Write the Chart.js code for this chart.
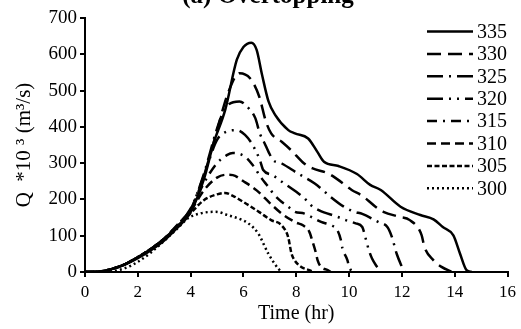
<!DOCTYPE html>
<html>
<head>
<meta charset="utf-8">
<script src="https://cdn.jsdelivr.net/npm/chart.js@4"></script>
<style>
  body { margin: 0; background: #fff; }
  #wrap { width: 521px; height: 329px; position: relative; }
</style>
</head>
<body>
<div id="wrap"><canvas id="chart"></canvas></div>
<script>
// outflow hydrographs, Q *10^3 m3/s vs time (hr), one pair of arrays per level
const t335 = [0, 0.5, 1, 1.5, 2, 2.5, 3, 3.5, 4, 4.5, 4.87, 5.31, 5.75, 6.0, 6.3, 6.5, 6.7, 6.95, 7.2, 7.7, 7.95, 8.45, 8.8, 9.05, 9.6, 10.3, 10.8, 11.2, 11.95, 12.7, 13.2, 13.55, 13.95, 14.2, 14.45, 14.65];
const q335 = [0, 1, 8, 20, 38, 60, 87, 122, 165, 255, 355, 447, 585, 620, 632, 612, 545, 470, 433, 391, 382, 368, 331, 304, 292, 270, 240, 226, 180, 157, 145, 124, 101, 51, 5, 0];

const t330 = [0, 0.5, 1, 1.5, 2, 2.5, 3, 3.5, 4, 4.5, 5, 5.4, 5.85, 6.25, 6.6, 6.85, 7.05, 7.45, 7.8, 8.3, 8.6, 9.2, 9.55, 10.1, 10.5, 11.0, 11.3, 11.9, 12.3, 12.75, 12.85, 13.2, 13.5, 13.9];
const q330 = [0, 1, 8, 21, 40, 63, 90, 126, 170, 265, 390, 490, 548, 534, 483, 415, 382, 359, 336, 299, 286, 272, 256, 226, 210, 180, 166, 152, 143, 101, 70, 32, 14, 0];

const t325 = [0, 0.5, 1, 1.5, 2, 2.5, 3, 3.5, 4, 4.5, 5, 5.3, 5.85, 6.2, 6.45, 6.62, 6.8, 6.95, 7.12, 7.45, 8.05, 8.7, 9.0, 9.3, 9.8, 10.2, 10.5, 11.1, 11.45, 11.62, 11.8, 11.95, 12.1];
const q325 = [0, 1, 8, 21, 40, 63, 91, 128, 172, 270, 395, 450, 470, 451, 424, 382, 355, 331, 309, 299, 272, 244, 226, 207, 180, 166, 160, 138, 124, 97, 51, 23, 0];

const t320 = [0, 0.5, 1, 1.5, 2, 2.5, 3, 3.5, 4, 4.5, 5, 5.37, 5.75, 6.06, 6.31, 6.62, 6.75, 7.1, 7.45, 8.0, 8.31, 8.56, 8.87, 9.56, 9.87, 10.25, 10.5, 10.62, 10.75, 10.87, 11.06, 11.2];
const q320 = [0, 1, 8, 21, 41, 64, 92, 130, 175, 265, 364, 387, 391, 378, 355, 309, 281, 267, 249, 221, 203, 184, 170, 152, 143, 134, 124, 95, 60, 37, 14, 0];

const t315 = [0, 0.5, 1, 1.5, 2, 2.5, 3, 3.5, 4, 4.5, 5, 5.37, 5.6, 6.06, 6.35, 6.69, 6.94, 7.12, 7.37, 7.69, 7.94, 8.31, 8.69, 8.94, 9.31, 9.56, 9.69, 9.75, 9.94, 10.0, 10.15];
const q315 = [0, 1, 8, 21, 41, 64, 92, 130, 172, 245, 300, 322, 328, 318, 295, 258, 235, 217, 198, 180, 166, 161, 147, 138, 129, 115, 88, 65, 32, 14, 0];

const t310 = [0, 0.5, 1, 1.5, 2, 2.5, 3, 3.5, 4, 4.5, 5, 5.35, 5.6, 6.0, 6.5, 7.0, 7.5, 8.0, 8.25, 8.5, 8.62, 8.75, 8.81, 8.94, 9.19, 9.3];
const q310 = [0, 1, 8, 21, 41, 64, 92, 128, 168, 225, 260, 268, 267, 250, 225, 190, 158, 136, 129, 110, 83, 51, 32, 14, 5, 0];

const t305 = [0, 0.5, 1, 1.5, 2, 2.5, 3, 3.5, 4, 4.5, 5, 5.3, 5.6, 5.95, 6.2, 6.6, 7.05, 7.44, 7.69, 7.82, 7.94, 8.19, 8.5, 8.65];
const q305 = [0, 1, 8, 21, 41, 64, 92, 126, 162, 198, 214, 218, 210, 195, 184, 165, 143, 129, 97, 51, 32, 14, 5, 0];

const t300 = [0, 0.5, 1, 1.5, 2, 2.5, 3, 3.5, 3.9, 4.4, 4.95, 5.44, 5.9, 6.19, 6.56, 6.94, 7.31, 7.45];
const q300 = [0, 0, 2, 10, 28, 54, 86, 120, 148, 162, 166, 156, 145, 134, 106, 51, 10, 0];

const levels = ["335", "330", "325", "320", "315", "310", "305", "300"];
const times = [t335, t330, t325, t320, t315, t310, t305, t300];
const flows = [q335, q330, q325, q320, q315, q310, q305, q300];
const dashes = [[], [14, 7], [16, 6, 2, 6], [16, 6, 2, 6, 2, 6], [10, 6, 2, 6], [9, 5], [5, 2.5], [2, 3]];

const serif = '"Liberation Serif", "Times New Roman", serif';

const datasets = levels.map((lv, i) => ({
  label: lv,
  data: times[i].map((t, k) => ({ x: t, y: flows[i][k] })),
  borderColor: "#000",
  borderWidth: 2.5,
  borderDash: dashes[i],
  pointRadius: 0,
  fill: false,
  cubicInterpolationMode: "monotone",
}));

// legend drawn inside the plot, top right, as in the original
const innerLegend = {
  id: "innerLegend",
  afterDatasetsDraw(chart) {
    const ctx = chart.ctx;
    ctx.save();
    ctx.font = "20px " + serif;
    ctx.fillStyle = "#000";
    ctx.textBaseline = "middle";
    chart.data.datasets.forEach((ds, i) => {
      const y = 31.5 + i * 22.4;
      ctx.beginPath();
      ctx.setLineDash(ds.borderDash);
      ctx.lineWidth = 2.5;
      ctx.strokeStyle = "#000";
      ctx.moveTo(427, y);
      ctx.lineTo(473, y);
      ctx.stroke();
      ctx.setLineDash([]);
      ctx.fillText(ds.label, 477, y + 1);
    });
    ctx.restore();
  },
};

// title is partly cut off at the top edge in the original
const cutTitle = {
  id: "cutTitle",
  afterDraw(chart) {
    const ctx = chart.ctx;
    ctx.save();
    ctx.font = "bold 25px " + serif;
    ctx.fillStyle = "#000";
    ctx.textAlign = "center";
    ctx.textBaseline = "alphabetic";
    ctx.fillText("(a) Overtopping", 268, 3);
    ctx.restore();
  },
};

new Chart(document.getElementById("chart"), {
  type: "line",
  data: { datasets },
  plugins: [innerLegend, cutTitle],
  options: {
    responsive: true,
    maintainAspectRatio: false,
    animation: false,
    layout: { padding: { top: 18, right: 10, left: 0, bottom: 0 } },
    plugins: { legend: { display: false }, tooltip: { enabled: false } },
    scales: {
      x: {
        type: "linear",
        min: 0,
        max: 16,
        afterFit: (s) => { s.height = 57; },
        ticks: { stepSize: 2, color: "#000", font: { family: serif, size: 17 }, padding: 5, maxRotation: 0 },
        grid: { drawOnChartArea: false, tickLength: 5, color: "#000", lineWidth: 2 },
        border: { color: "#000", width: 2 },
        title: { display: true, text: "Time (hr)", color: "#000", font: { family: serif, size: 20 }, padding: { top: 0, bottom: 3 } },
      },
      y: {
        min: 0,
        max: 700,
        afterFit: (s) => { s.width = 85; },
        ticks: { stepSize: 100, color: "#000", font: { family: serif, size: 19 }, padding: 3 },
        grid: { drawOnChartArea: false, tickLength: 5, color: "#000", lineWidth: 2 },
        border: { color: "#000", width: 2 },
        title: { display: true, text: "Q  *10 ³ (m³/s)", color: "#000", font: { family: serif, size: 21 }, padding: { top: 12, bottom: 0 } },
      },
    },
  },
});
</script>
</body>
</html>
